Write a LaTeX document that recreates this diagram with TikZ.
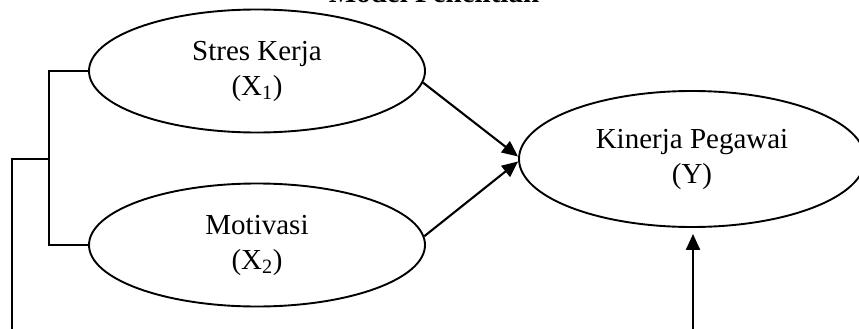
\documentclass[tikz,border=0pt]{standalone}
\usepackage{fontspec}
\setmainfont{Liberation Serif}
\usetikzlibrary{shapes.geometric,arrows.meta}
\tikzset{
  varbox/.style={draw, ellipse, line width=1.9pt, inner sep=0pt,
    minimum width=336pt, minimum height=123pt, align=center,
    font=\fontsize{29}{35}\selectfont},
  link/.style={line width=1.9pt},
  arrowlink/.style={line width=2.1pt, -{Triangle[length=16pt,width=14pt]}},
}
\begin{document}
\begin{tikzpicture}[x=1pt,y=-1pt]
\useasboundingbox (0,0) rectangle (859,329);
\clip (0,0) rectangle (859,329);
% title (partly above the page edge)
\node[anchor=base, font=\bfseries\fontsize{29}{35}\selectfont] (title) at (434,3) {Model Penelitian};
% variables
\node[varbox] (sk) at (257,71) {Stres Kerja\\(X\textsubscript{1})};
\node[varbox] (mo) at (257,245) {Motivasi\\(X\textsubscript{2})};
\node[varbox, minimum width=346pt, minimum height=136pt] (kp) at (692,159) {Kinerja Pegawai\\(Y)};
% bracket joining the two independent variables
\coordinate (jx) at (49,159);
\coordinate (jl) at (12,159);
\coordinate (bl) at (12,345);
\coordinate (br) at (693,345);
\draw[link] (sk.west) -| (jx) |- (mo.west);
% paths into the dependent variable
\draw[arrowlink] (sk.-4) -- ([yshift=2.5pt]kp.west);
\draw[arrowlink] (mo.3) -- ([yshift=-2.5pt]kp.west);
\draw[arrowlink, shorten >=6pt] (jx) -- (jl) -- (bl) -- (br) -- (br |- kp.south);
\end{tikzpicture}
\end{document}
